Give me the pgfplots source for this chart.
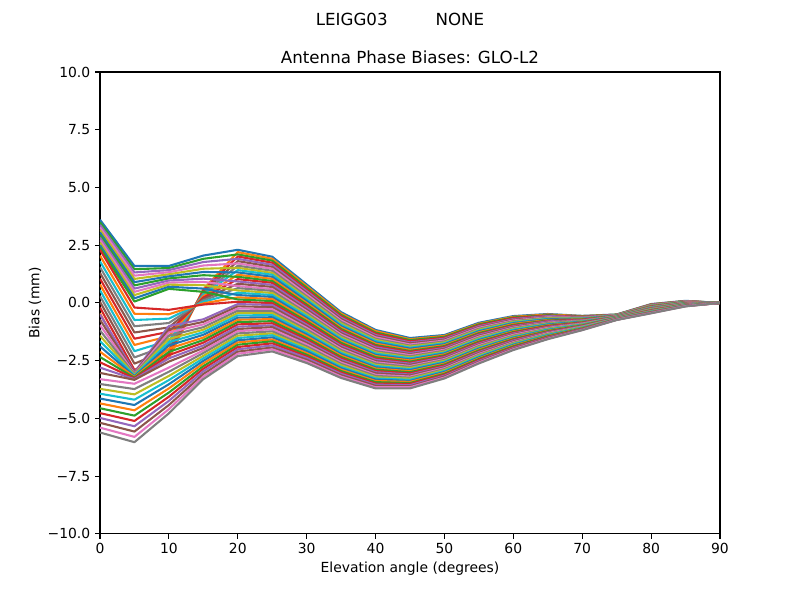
\documentclass[border=0pt]{standalone}
\usepackage{pgfplots}
\pgfplotsset{compat=1.18}
\usepackage{pgfplotstable}
\usepackage{fontspec}
\setmainfont{DejaVu Sans}
\definecolor{C0}{HTML}{1F77B4}
\definecolor{C1}{HTML}{FF7F0E}
\definecolor{C2}{HTML}{2CA02C}
\definecolor{C3}{HTML}{D62728}
\definecolor{C4}{HTML}{9467BD}
\definecolor{C5}{HTML}{8C564B}
\definecolor{C6}{HTML}{E377C2}
\definecolor{C7}{HTML}{7F7F7F}
\definecolor{C8}{HTML}{BCBD22}
\definecolor{C9}{HTML}{17BECF}
\pgfplotstableread[header=false]{
0 3.60 -0.45 3.49 -0.20 3.38 0.05 3.27 0.30 3.16 0.55 3.05 0.80 2.94 1.05 2.83 1.30 2.72 1.55 2.61 1.80 2.50 2.05 2.39 2.30 -0.50 -0.73 -0.96 -1.19 -1.42 -1.65 -1.88 -2.11 -2.34 -2.57 -2.80 -3.03 -3.30 -3.51 -3.72 -3.93 -4.14 -4.35 -4.56 -4.77 -4.98 -5.19 -5.40 -5.61
5 1.60 -3.17 1.46 -2.90 1.32 -2.63 1.18 -2.36 1.04 -2.09 0.90 -1.82 0.76 -1.55 0.62 -1.28 0.48 -1.01 0.34 -0.74 0.20 -0.47 0.06 -0.20 -3.00 -3.03 -3.06 -3.09 -3.12 -3.15 -3.18 -3.21 -3.24 -3.27 -3.30 -3.33 -3.50 -3.73 -3.96 -4.19 -4.42 -4.65 -4.88 -5.11 -5.34 -5.57 -5.80 -6.03
10 1.60 -2.39 1.51 -2.20 1.42 -2.01 1.33 -1.82 1.24 -1.63 1.15 -1.44 1.06 -1.25 0.97 -1.06 0.88 -0.87 0.79 -0.68 0.70 -0.49 0.61 -0.30 -1.00 -1.14 -1.28 -1.42 -1.56 -1.70 -1.84 -1.98 -2.12 -2.26 -2.40 -2.54 -2.80 -2.98 -3.16 -3.34 -3.52 -3.70 -3.88 -4.06 -4.24 -4.42 -4.60 -4.78
15 2.05 0.59 1.91 0.54 1.77 0.47 1.62 0.41 1.48 0.35 1.34 0.29 1.20 0.23 1.05 0.17 0.91 0.11 0.77 0.05 0.62 -0.02 0.48 -0.07 -0.71 -0.82 -0.93 -1.05 -1.16 -1.27 -1.38 -1.50 -1.61 -1.72 -1.84 -1.95 -2.06 -2.17 -2.29 -2.40 -2.51 -2.62 -2.74 -2.85 -2.96 -3.08 -3.19 -3.30
20 2.30 2.20 2.10 2.01 1.91 1.81 1.71 1.61 1.52 1.42 1.32 1.22 1.13 1.03 0.93 0.83 0.73 0.64 0.54 0.44 0.34 0.24 0.15 0.05 -0.05 -0.15 -0.24 -0.34 -0.44 -0.54 -0.64 -0.73 -0.83 -0.93 -1.03 -1.13 -1.22 -1.32 -1.42 -1.52 -1.62 -1.71 -1.81 -1.91 -2.01 -2.11 -2.20 -2.30
25 2.00 1.91 1.83 1.74 1.65 1.56 1.48 1.39 1.30 1.22 1.13 1.04 0.95 0.87 0.78 0.69 0.60 0.52 0.43 0.34 0.26 0.17 0.08 -0.01 -0.09 -0.18 -0.27 -0.36 -0.44 -0.53 -0.62 -0.70 -0.79 -0.88 -0.97 -1.05 -1.14 -1.23 -1.32 -1.40 -1.49 -1.58 -1.66 -1.75 -1.84 -1.93 -2.01 -2.10
30 0.80 0.73 0.66 0.58 0.51 0.44 0.37 0.29 0.22 0.15 0.08 0.00 -0.07 -0.14 -0.21 -0.29 -0.36 -0.43 -0.50 -0.57 -0.65 -0.72 -0.79 -0.86 -0.94 -1.01 -1.08 -1.15 -1.23 -1.30 -1.37 -1.44 -1.52 -1.59 -1.66 -1.73 -1.80 -1.88 -1.95 -2.02 -2.09 -2.17 -2.24 -2.31 -2.38 -2.46 -2.53 -2.60
35 -0.40 -0.46 -0.52 -0.58 -0.64 -0.70 -0.76 -0.82 -0.89 -0.95 -1.01 -1.07 -1.13 -1.19 -1.25 -1.31 -1.37 -1.43 -1.49 -1.55 -1.61 -1.67 -1.73 -1.80 -1.86 -1.92 -1.98 -2.04 -2.10 -2.16 -2.22 -2.28 -2.34 -2.40 -2.46 -2.52 -2.58 -2.64 -2.70 -2.77 -2.83 -2.89 -2.95 -3.01 -3.07 -3.13 -3.19 -3.25
40 -1.17 -1.22 -1.28 -1.33 -1.39 -1.44 -1.49 -1.55 -1.60 -1.65 -1.71 -1.76 -1.82 -1.87 -1.92 -1.98 -2.03 -2.09 -2.14 -2.19 -2.25 -2.30 -2.35 -2.41 -2.46 -2.52 -2.57 -2.62 -2.68 -2.73 -2.79 -2.84 -2.89 -2.95 -3.00 -3.05 -3.11 -3.16 -3.22 -3.27 -3.32 -3.38 -3.43 -3.49 -3.54 -3.59 -3.65 -3.70
45 -1.52 -1.57 -1.61 -1.66 -1.71 -1.75 -1.80 -1.85 -1.89 -1.94 -1.98 -2.03 -2.08 -2.12 -2.17 -2.22 -2.26 -2.31 -2.36 -2.40 -2.45 -2.49 -2.54 -2.59 -2.63 -2.68 -2.73 -2.77 -2.82 -2.87 -2.91 -2.96 -3.00 -3.05 -3.10 -3.14 -3.19 -3.24 -3.28 -3.33 -3.38 -3.42 -3.47 -3.51 -3.56 -3.61 -3.65 -3.70
50 -1.39 -1.43 -1.47 -1.51 -1.55 -1.59 -1.63 -1.67 -1.71 -1.75 -1.79 -1.83 -1.87 -1.91 -1.95 -1.99 -2.03 -2.07 -2.11 -2.15 -2.19 -2.23 -2.27 -2.31 -2.35 -2.39 -2.43 -2.47 -2.51 -2.55 -2.59 -2.63 -2.67 -2.71 -2.75 -2.79 -2.83 -2.87 -2.91 -2.95 -2.99 -3.03 -3.07 -3.11 -3.15 -3.19 -3.23 -3.27
55 -0.86 -0.90 -0.93 -0.97 -1.01 -1.05 -1.08 -1.12 -1.16 -1.20 -1.23 -1.27 -1.31 -1.35 -1.38 -1.42 -1.46 -1.50 -1.53 -1.57 -1.61 -1.65 -1.68 -1.72 -1.76 -1.80 -1.83 -1.87 -1.91 -1.95 -1.98 -2.02 -2.06 -2.10 -2.13 -2.17 -2.21 -2.25 -2.28 -2.32 -2.36 -2.40 -2.43 -2.47 -2.51 -2.55 -2.58 -2.62
60 -0.57 -0.60 -0.63 -0.66 -0.70 -0.73 -0.76 -0.79 -0.82 -0.85 -0.88 -0.91 -0.95 -0.98 -1.01 -1.04 -1.07 -1.10 -1.13 -1.16 -1.20 -1.23 -1.26 -1.29 -1.32 -1.35 -1.38 -1.42 -1.45 -1.48 -1.51 -1.54 -1.57 -1.60 -1.63 -1.67 -1.70 -1.73 -1.76 -1.79 -1.82 -1.85 -1.88 -1.92 -1.95 -1.98 -2.01 -2.04
65 -0.48 -0.50 -0.53 -0.55 -0.57 -0.60 -0.62 -0.64 -0.67 -0.69 -0.71 -0.74 -0.76 -0.78 -0.80 -0.83 -0.85 -0.87 -0.90 -0.92 -0.94 -0.97 -0.99 -1.01 -1.04 -1.06 -1.08 -1.11 -1.13 -1.15 -1.18 -1.20 -1.22 -1.25 -1.27 -1.29 -1.31 -1.34 -1.36 -1.38 -1.41 -1.43 -1.45 -1.48 -1.50 -1.52 -1.55 -1.57
70 -0.56 -0.57 -0.59 -0.60 -0.61 -0.63 -0.64 -0.65 -0.67 -0.68 -0.69 -0.71 -0.72 -0.73 -0.75 -0.76 -0.77 -0.78 -0.80 -0.81 -0.82 -0.84 -0.85 -0.86 -0.88 -0.89 -0.90 -0.92 -0.93 -0.94 -0.96 -0.97 -0.98 -1.00 -1.01 -1.02 -1.03 -1.05 -1.06 -1.07 -1.09 -1.10 -1.11 -1.13 -1.14 -1.15 -1.17 -1.18
75 -0.50 -0.51 -0.51 -0.52 -0.52 -0.53 -0.53 -0.54 -0.54 -0.55 -0.55 -0.56 -0.56 -0.57 -0.57 -0.58 -0.58 -0.59 -0.59 -0.60 -0.60 -0.61 -0.61 -0.62 -0.62 -0.63 -0.63 -0.64 -0.64 -0.65 -0.65 -0.66 -0.66 -0.67 -0.67 -0.68 -0.68 -0.69 -0.69 -0.70 -0.70 -0.71 -0.71 -0.72 -0.72 -0.73 -0.73 -0.74
80 -0.05 -0.06 -0.07 -0.08 -0.08 -0.09 -0.10 -0.11 -0.12 -0.13 -0.14 -0.14 -0.15 -0.16 -0.17 -0.18 -0.19 -0.19 -0.20 -0.21 -0.22 -0.23 -0.24 -0.25 -0.25 -0.26 -0.27 -0.28 -0.29 -0.30 -0.31 -0.31 -0.32 -0.33 -0.34 -0.35 -0.36 -0.36 -0.37 -0.38 -0.39 -0.40 -0.41 -0.42 -0.42 -0.43 -0.44 -0.45
85 0.09 0.08 0.08 0.07 0.07 0.06 0.06 0.05 0.05 0.04 0.04 0.03 0.03 0.02 0.02 0.01 0.01 0.00 0.00 -0.01 -0.01 -0.02 -0.02 -0.03 -0.03 -0.04 -0.04 -0.05 -0.05 -0.06 -0.06 -0.07 -0.07 -0.08 -0.08 -0.09 -0.09 -0.10 -0.10 -0.11 -0.11 -0.12 -0.12 -0.13 -0.13 -0.14 -0.14 -0.15
90 0 0 0 0 0 0 0 0 0 0 0 0 0 0 0 0 0 0 0 0 0 0 0 0 0 0 0 0 0 0 0 0 0 0 0 0 0 0 0 0 0 0 0 0 0 0 0 0
}\data
\begin{document}
\begin{tikzpicture}
\useasboundingbox (-72pt,-47.5pt) rectangle (504pt,384.4pt);
\begin{axis}[
  at={(0,0)}, anchor=south west, scale only axis,
  width=446.4pt, height=332.6pt,
  xmin=0, xmax=90, ymin=-10, ymax=10,
  xtick={0,10,20,30,40,50,60,70,80,90},
  xticklabels={0,10,20,30,40,50,60,70,80,90},
  ytick={-10,-7.5,-5,-2.5,0,2.5,5,7.5,10},
  yticklabels={−10.0,−7.5,−5.0,−2.5,0.0,2.5,5.0,7.5,10.0},
  xtick pos=left, ytick pos=left,
  tick align=outside, major tick length=3.5pt,
  every tick/.style={black, line width=0.8pt},
  axis line style={line width=0.8pt},
  tick label style={font=\fontsize{10}{12}\selectfont},
  xlabel={Elevation angle (degrees)},
  ylabel={Bias (mm)},
  label style={font=\fontsize{10}{12}\selectfont},
  x label style={at={(axis description cs:0.5,-0.0757)}, anchor=center},
  y label style={at={(axis description cs:-0.1048,0.5)}, anchor=center},
  cycle list={{C0},{C1},{C2},{C3},{C4},{C5},{C6},{C7},{C8},{C9}},
  every axis plot/.append style={line width=1.5pt, line join=round, mark=none},
]
\pgfplotsinvokeforeach{1,...,48}{\addplot table[x index=0, y index=#1]{\data};}
\end{axis}
\node[anchor=base] at (223.2pt,338.6pt) {\fontsize{12}{14}\selectfont Antenna Phase Biases: GLO-L2};
\node[anchor=base] at (216pt,365.8pt) {\fontsize{12}{14}\selectfont LEIGG03\hspace{34.5pt}NONE};
\end{tikzpicture}
\end{document}
